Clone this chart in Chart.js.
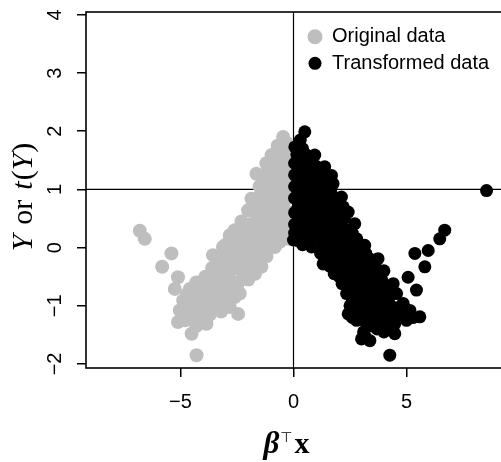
<!DOCTYPE html>
<html>
<head>
<meta charset="utf-8">
<script src="https://cdn.jsdelivr.net/npm/chart.js@4.4.1/dist/chart.umd.min.js"></script>
<style>
  html, body { margin: 0; padding: 0; background: #fff; }
</style>
</head>
<body>
<canvas id="scatter" width="501" height="462"></canvas>
<script>
// series
const seriesNames = ['Original data', 'Transformed data'];
const seriesColors = ['#BEBEBE', '#000000'];

// [beta'x, Y]
const originalData = [
  [-6.80, 0.29], [-6.58, 0.15], [-5.40, -0.10], [-5.81, -0.33], [-5.11, -0.51],
  [-5.25, -0.71], [-4.59, -0.71], [-5.03, -1.08], [-5.11, -1.28], [-4.51, -1.48],
  [-4.29, -1.85], [-3.85, -1.31], [-4.44, -1.25], [-4.00, -1.25], [-4.88, -0.91],
  [-4.29, -0.96], [-4.29, -0.79], [-3.56, -1.02], [-2.82, -1.02], [-2.45, -1.14],
  [-2.38, -0.79], [-1.42, -0.33], [-3.70, -0.56], [-3.56, -0.13], [-3.12, 0.01],
  [-2.82, 0.21], [-2.08, 0.18], [-2.01, 0.64], [-1.86, 0.84], [-1.64, 1.27],
  [-0.97, 1.59], [-0.46, 1.90], [-0.61, 1.62], [-0.75, 1.33], [-1.05, 1.04],
  [-1.35, 0.76], [-1.64, 0.47], [-2.52, -0.10], [-2.96, -0.22], [-3.41, -0.45],
  [-0.83, 0.01],
  [-4.70, -1.15], [-4.20, -1.10], [-3.70, -1.15],
  [-4.60, -1.00], [-4.00, -0.95], [-3.70, -0.88], [-3.30, -0.95], [-3.00, -0.85],
  [-4.50, -0.85], [-4.00, -0.75], [-3.50, -0.80], [-3.20, -0.70], [-2.90, -0.75], [-2.60, -0.85],
  [-4.10, -0.60], [-3.90, -0.50], [-3.40, -0.60], [-3.00, -0.55], [-2.70, -0.60], [-2.30, -0.55],
  [-3.60, -0.35], [-3.20, -0.40], [-2.80, -0.40], [-2.50, -0.35], [-2.10, -0.40], [-1.80, -0.30],
  [-2.00, -0.55], [-1.70, -0.45],
  [-3.30, -0.20], [-2.90, -0.10], [-2.50, -0.25], [-2.20, -0.15], [-1.90, -0.20], [-1.60, -0.15], [-1.20, -0.15],
  [-3.00, 0.05], [-2.60, 0.05], [-2.30, 0.00], [-1.90, 0.05], [-1.50, 0.00], [-1.10, 0.05], [-0.60, 0.10],
  [-2.60, 0.30], [-2.20, 0.25], [-1.80, 0.20], [-1.40, 0.25], [-1.00, 0.20], [-0.50, 0.25], [-0.20, 0.15],
  [-2.30, 0.45], [-1.90, 0.40], [-1.50, 0.45], [-1.10, 0.40], [-0.70, 0.45], [-0.30, 0.40],
  [-1.80, 0.65], [-1.40, 0.60], [-1.00, 0.65], [-0.60, 0.60], [-0.20, 0.60],
  [-1.60, 0.85], [-1.20, 0.80], [-0.80, 0.85], [-0.40, 0.80], [-0.10, 0.90],
  [-1.50, 1.05], [-1.20, 1.10], [-0.80, 1.00], [-0.40, 1.05], [-0.15, 1.10],
  [-1.30, 1.25], [-1.00, 1.30], [-0.60, 1.20], [-0.30, 1.30],
  [-1.20, 1.45], [-0.80, 1.50], [-0.40, 1.45], [-0.20, 1.60],
  [-0.70, 1.75], [-0.30, 1.80],
  [-0.50, 1.00], [-0.30, 0.20], [-0.10, 0.30], [-0.40, 0.60], [-0.10, 1.40],
  [-0.50, 1.65], [-0.90, 1.15], [-1.30, 0.95], [-0.60, 0.90], [-0.90, 0.70],
  [-1.20, 0.50], [-0.90, 0.30], [-1.30, 0.10], [-1.70, 0.30], [-2.00, 0.00],
  [-2.40, 0.15], [-2.70, -0.20], [-2.30, -0.30], [-1.95, -0.30], [-3.10, -0.60],
  [-2.50, -0.70], [-3.40, -0.25], [-3.80, -0.70], [-4.30, -0.60], [-4.70, -0.80],
  [-3.20, -1.10], [-4.00, -1.05], [-4.80, -1.25], [-4.30, -1.35]
];

const transformedData = [
  [0.50, 1.99], [0.06, 1.73], [0.94, 1.59], [1.38, 1.39], [1.68, 1.24],
  [1.75, 1.10], [2.12, 0.87], [2.42, 0.61], [2.71, 0.41], [3.15, 0.04],
  [3.74, -0.19], [0.00, 0.13], [0.80, 0.01], [1.31, -0.28], [2.05, -0.51],
  [2.35, -0.79], [2.42, -1.14], [2.79, -1.25], [3.01, -1.57], [3.20, -1.55],
  [3.38, -1.60], [4.26, -1.85], [4.48, -1.48], [3.96, -1.34], [5.59, -1.19],
  [5.44, -0.73], [5.07, -0.51], [4.41, -0.62], [4.70, -1.02], [5.15, -1.08],
  [5.37, -0.10], [5.81, -0.33], [5.96, -0.05], [6.47, 0.15], [6.69, 0.30],
  [8.54, 0.98], [4.56, -0.79], [4.85, -0.96], [5.00, -1.25], [4.48, -1.31],
  [3.82, -1.31], [3.38, -1.19], [2.79, -1.02], [2.49, -0.79], [3.38, -0.79],
  [3.82, -1.02], [4.11, -1.14], [4.00, -0.40],
  [0.30, 1.85], [0.40, 1.70], [0.15, 1.60],
  [0.05, 1.45], [0.40, 1.50], [0.70, 1.45], [1.00, 1.40],
  [0.05, 1.25], [0.35, 1.30], [0.70, 1.25], [1.05, 1.20], [1.35, 1.20],
  [0.05, 1.05], [0.40, 1.00], [0.75, 1.10], [1.10, 1.00], [1.45, 1.05],
  [0.05, 0.85], [0.40, 0.80], [0.80, 0.85], [1.20, 0.80], [1.60, 0.85], [1.90, 0.80],
  [0.05, 0.60], [0.40, 0.65], [0.80, 0.60], [1.20, 0.60], [1.60, 0.60], [2.00, 0.55],
  [0.05, 0.40], [0.45, 0.40], [0.85, 0.40], [1.30, 0.35], [1.70, 0.40], [2.10, 0.35], [2.40, 0.30],
  [0.05, 0.25], [0.50, 0.20], [0.90, 0.20], [1.30, 0.15], [1.70, 0.10], [2.10, 0.15], [2.50, 0.10], [2.80, 0.15],
  [0.40, 0.05], [1.10, 0.00], [1.50, -0.05], [1.90, -0.05], [2.30, -0.10], [2.70, -0.05],
  [1.40, -0.20], [1.80, -0.25], [2.20, -0.30], [2.60, -0.25], [3.00, -0.20], [3.40, -0.20],
  [1.80, -0.45], [2.20, -0.45], [2.60, -0.40], [3.00, -0.45], [3.40, -0.40],
  [2.30, -0.60], [2.70, -0.65], [3.10, -0.60], [3.50, -0.60], [3.90, -0.55],
  [2.80, -0.85], [3.10, -0.80], [3.70, -0.85], [4.00, -0.80],
  [2.50, -1.00], [3.10, -1.05], [3.50, -1.00], [4.30, -1.00],
  [2.60, -1.20], [3.10, -1.25], [3.60, -1.20], [4.30, -1.20], [4.80, -1.15], [5.30, -1.20],
  [3.10, -1.45], [4.00, -1.45],
  [0.20, 1.55], [0.55, 1.60], [0.20, 1.35], [0.55, 1.40], [0.85, 1.30], [1.20, 1.30],
  [0.20, 1.15], [0.55, 1.15], [0.90, 1.15], [1.25, 1.10], [1.55, 1.15],
  [0.20, 0.95], [0.60, 0.95], [0.95, 0.95], [1.30, 0.95], [1.65, 0.95],
  [0.20, 0.70], [0.60, 0.75], [1.00, 0.70], [1.40, 0.70], [1.80, 0.70], [2.20, 0.70],
  [0.25, 0.50], [0.65, 0.50], [1.05, 0.50], [1.50, 0.50], [1.90, 0.50], [2.25, 0.50],
  [0.25, 0.30], [0.70, 0.30], [1.10, 0.30], [1.50, 0.25], [1.90, 0.25], [2.30, 0.20], [2.60, 0.25],
  [0.20, 0.12], [0.60, 0.10], [1.30, 0.05], [1.70, 0.00], [2.10, 0.00], [2.50, 0.00], [2.90, 0.00],
  [1.20, -0.10], [1.60, -0.12], [2.00, -0.15], [2.40, -0.20], [2.80, -0.15], [3.20, -0.10],
  [1.60, -0.32], [2.00, -0.35], [2.40, -0.35], [2.80, -0.30], [3.20, -0.30], [3.60, -0.30],
  [2.15, -0.62], [2.50, -0.55], [2.90, -0.50], [3.30, -0.50], [3.70, -0.45],
  [2.60, -0.75], [3.00, -0.70], [3.40, -0.70], [3.80, -0.70], [4.20, -0.70],
  [2.60, -0.90], [2.95, -0.95], [3.30, -0.90], [3.90, -0.90], [4.20, -0.90],
  [2.90, -1.15], [3.30, -1.10], [3.80, -1.15], [4.50, -1.10],
  [3.40, -1.35], [3.70, -1.40], [4.20, -1.35]
];

// axes
const xRange = [-9.18, 9.18];
const yRange = [-2.07, 4.05];
const xTickValues = [-5, 0, 5];
const xTickLabels = ['\u22125', '0', '5'];
const yTickValues = [-2, -1, 0, 1, 2, 3, 4];
const yTickLabels = ['\u22122', '\u22121', '0', '1', '2', '3', '4'];
const refLineX = 0;
const refLineY = 1;

const sansFont = '"Liberation Sans", Arial, sans-serif';
const serif = '"Liberation Serif", "Times New Roman", serif';

// horizontal / vertical reference lines, under the points
const refLines = {
  id: 'refLines',
  beforeDatasetsDraw(chart) {
    const {ctx, chartArea: a, scales: {x, y}} = chart;
    const px = x.getPixelForValue(refLineX);
    const py = y.getPixelForValue(refLineY);
    ctx.save();
    ctx.strokeStyle = '#000';
    ctx.lineWidth = 1.2;
    ctx.beginPath();
    ctx.moveTo(px, a.top); ctx.lineTo(px, a.bottom);
    ctx.moveTo(a.left, py); ctx.lineTo(a.right, py);
    ctx.stroke();
    ctx.restore();
  }
};

// R style box round the plot region (its right side falls just off the page)
const frame = {
  id: 'frame',
  afterDatasetsDraw(chart) {
    const {ctx, chartArea: a} = chart;
    ctx.save();
    ctx.strokeStyle = '#000';
    ctx.lineWidth = 1.6;
    ctx.strokeRect(a.left, a.top, a.right - a.left + 4, a.bottom - a.top);
    ctx.restore();
  }
};

function drawPieces(ctx, pieces, cx, baseY) {
  let total = 0;
  pieces.forEach(p => { ctx.font = p.f; p.w = ctx.measureText(p.t).width; total += p.w + (p.gap || 0); });
  let cur = cx - total / 2;
  pieces.forEach(p => {
    cur += p.gap || 0;
    ctx.font = p.f;
    ctx.fillText(p.t, cur, baseY + (p.dy || 0));
    cur += p.w;
  });
}

// axis titles with mixed math fonts
const axisTitles = {
  id: 'axisTitles',
  afterDraw(chart) {
    const {ctx, chartArea: a} = chart;
    ctx.save();
    ctx.fillStyle = '#000';
    ctx.textBaseline = 'alphabetic';
    ctx.textAlign = 'left';
    const xPieces = [
      {t: '\u03B2', f: 'bold italic 31px ' + serif},
      {t: '\u22A4', f: '14px "DejaVu Sans"', dy: -11, gap: 1},
      {t: 'x', f: 'bold 30px ' + serif, gap: 2}
    ];
    drawPieces(ctx, xPieces, (a.left + a.right) / 2 - 7, 453);
    ctx.translate(31.5, (a.top + a.bottom) / 2 + 7);
    ctx.rotate(-Math.PI / 2);
    const yPieces = [
      {t: 'Y', f: 'italic 30px ' + serif},
      {t: 'or', f: '30px ' + serif, gap: 10},
      {t: 't', f: 'italic 30px ' + serif, gap: 10},
      {t: '(', f: '30px ' + serif, gap: 1},
      {t: 'Y', f: 'italic 30px ' + serif},
      {t: ')', f: '30px ' + serif, gap: 1}
    ];
    drawPieces(ctx, yPieces, 0, 0);
    ctx.restore();
  }
};

// legend in the top right corner of the plot
const cornerLegend = {
  id: 'cornerLegend',
  afterDraw(chart) {
    const {ctx, chartArea: a} = chart;
    ctx.save();
    ctx.font = '20px ' + sansFont;
    ctx.textBaseline = 'middle';
    ctx.textAlign = 'left';
    chart.data.datasets.forEach((ds, i) => {
      const cy = a.top + 24.7 + i * 26.6;
      const cx = a.left + 229;
      ctx.fillStyle = ds.backgroundColor;
      ctx.beginPath();
      ctx.arc(cx, cy, i === 0 ? 7.5 : 6.5, 0, Math.PI * 2);
      ctx.fill();
      ctx.fillStyle = '#000';
      ctx.fillText(ds.label, a.left + 246, cy);
    });
    ctx.restore();
  }
};

function noPadding(s) {
  s.paddingTop = 0; s.paddingBottom = 0; s.paddingLeft = 0; s.paddingRight = 0;
}

const ctx = document.getElementById('scatter').getContext('2d');
const chart = new Chart(ctx, {
  type: 'scatter',
  data: {
    datasets: [{
      label: seriesNames[0],
      data: originalData.map(p => ({x: p[0], y: p[1]})),
      backgroundColor: seriesColors[0],
      borderColor: seriesColors[0],
      borderWidth: 0,
      pointRadius: 7,
      pointHoverRadius: 7,
      order: 2
    }, {
      label: seriesNames[1],
      data: transformedData.map(p => ({x: p[0], y: p[1]})),
      backgroundColor: seriesColors[1],
      borderColor: seriesColors[1],
      borderWidth: 0,
      pointRadius: 6.5,
      pointHoverRadius: 6.5,
      order: 1
    }]
  },
  options: {
    responsive: false,
    animation: false,
    events: [],
    layout: { autoPadding: false, padding: { top: 12, right: 0, left: 0, bottom: 0 } },
    plugins: {
      legend: { display: false },
      tooltip: { enabled: false }
    },
    scales: {
      x: {
        type: 'linear',
        min: xRange[0],
        max: xRange[1],
        afterBuildTicks: s => { s.ticks = xTickValues.map(v => ({value: v})); },
        afterFit: s => { s.height = 94; noPadding(s); },
        ticks: {
          callback: (v, i) => xTickLabels[i],
          font: { family: sansFont, size: 20 },
          color: '#000',
          padding: 13,
          maxRotation: 0,
          autoSkip: false
        },
        grid: { drawOnChartArea: false, drawTicks: true, tickLength: 9, color: '#000', lineWidth: 1.5 },
        border: { display: false }
      },
      y: {
        type: 'linear',
        min: yRange[0],
        max: yRange[1],
        afterBuildTicks: s => { s.ticks = yTickValues.map(v => ({value: v})); },
        afterFit: s => { s.width = 86; noPadding(s); },
        ticks: {
          callback: (v, i) => yTickLabels[i],
          font: { family: sansFont, size: 20 },
          color: '#000',
          padding: 10,
          minRotation: 90,
          maxRotation: 90,
          crossAlign: 'center',
          autoSkip: false
        },
        grid: { drawOnChartArea: false, drawTicks: true, tickLength: 9, color: '#000', lineWidth: 1.5 },
        border: { display: false }
      }
    }
  },
  plugins: [refLines, frame, axisTitles, cornerLegend]
});
</script>
</body>
</html>
